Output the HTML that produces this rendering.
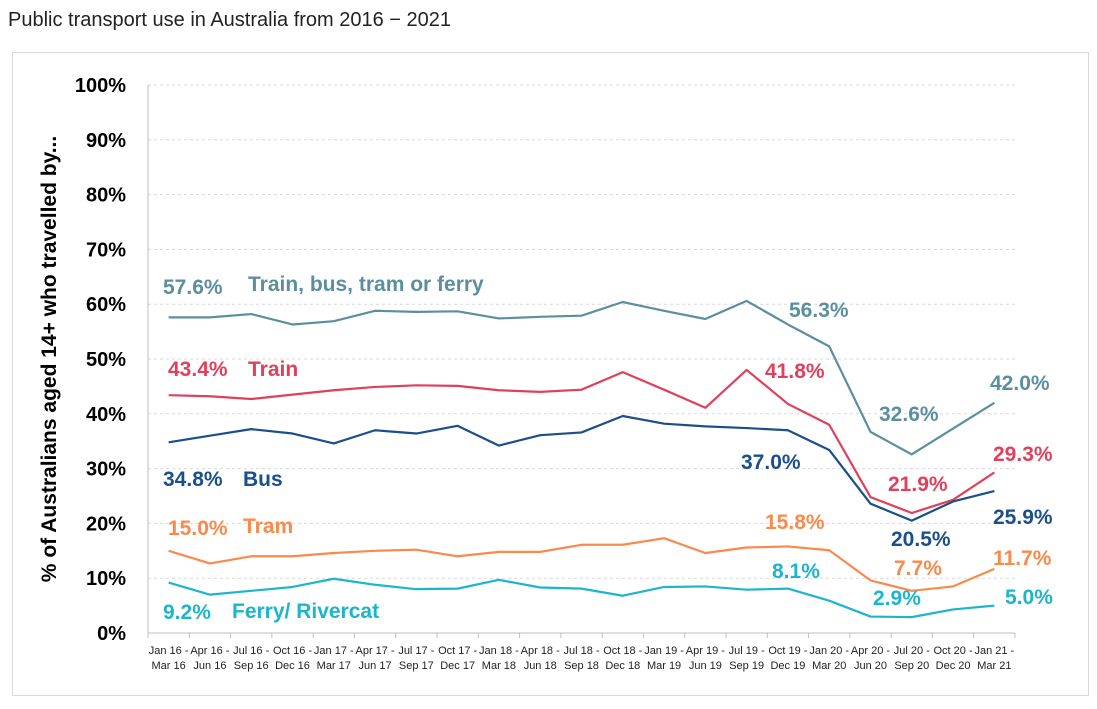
<!DOCTYPE html>
<html><head><meta charset="utf-8"><style>
body{margin:0;background:#fff;font-family:"Liberation Sans","DejaVu Sans",sans-serif}
</style></head><body>
<svg width="1097" height="704" xmlns="http://www.w3.org/2000/svg">
<text x="8" y="26" font-size="20" fill="#222">Public transport use in Australia from 2016 − 2021</text>
<rect x="12.5" y="52.5" width="1076" height="643" fill="#fff" stroke="#d9d9d9"/>
<g id="grid"></g><g id="axes"></g><g id="lines"></g>
<text transform="translate(56,359) rotate(-90)" text-anchor="middle" font-size="21" font-weight="bold" fill="#000">% of Australians aged 14+ who travelled by...</text>
<g font-weight="bold" font-size="21">
<text x="163" y="294" fill="#5b8fa0">57.6%</text>
<text x="248" y="291" fill="#5b8fa0">Train, bus, tram or ferry</text>
<text x="168" y="376" fill="#e0405a">43.4%</text>
<text x="248" y="376" fill="#e0405a">Train</text>
<text x="163" y="486" fill="#1a4f8a">34.8%</text>
<text x="243" y="486" fill="#1a4f8a">Bus</text>
<text x="168" y="535" fill="#f98a4c">15.0%</text>
<text x="243" y="533" fill="#f98a4c">Tram</text>
<text x="163" y="619" fill="#1cb5cc">9.2%</text>
<text x="232" y="618" fill="#1cb5cc">Ferry/ Rivercat</text>
<text x="789" y="317" fill="#5b8fa0">56.3%</text>
<text x="765" y="378" fill="#e0405a">41.8%</text>
<text x="741" y="469" fill="#1a4f8a">37.0%</text>
<text x="765" y="529" fill="#f98a4c">15.8%</text>
<text x="772" y="578" fill="#1cb5cc">8.1%</text>
<text x="879" y="421" fill="#5b8fa0">32.6%</text>
<text x="888" y="491" fill="#e0405a">21.9%</text>
<text x="891" y="546" fill="#1a4f8a">20.5%</text>
<text x="894" y="575" fill="#f98a4c">7.7%</text>
<text x="873" y="605" fill="#1cb5cc">2.9%</text>
<text x="990" y="390" fill="#5b8fa0">42.0%</text>
<text x="993" y="461" fill="#e0405a">29.3%</text>
<text x="993" y="524" fill="#1a4f8a">25.9%</text>
<text x="993" y="565" fill="#f98a4c">11.7%</text>
<text x="1005" y="604" fill="#1cb5cc">5.0%</text>
</g>
</svg>
<script>
const cats1=["Jan 16 -","Apr 16 -","Jul 16 -","Oct 16 -","Jan 17 -","Apr 17 -","Jul 17 -","Oct 17 -","Jan 18 -","Apr 18 -","Jul 18 -","Oct 18 -","Jan 19 -","Apr 19 -","Jul 19 -","Oct 19 -","Jan 20 -","Apr 20 -","Jul 20 -","Oct 20 -","Jan 21 -"];
const cats2=["Mar 16","Jun 16","Sep 16","Dec 16","Mar 17","Jun 17","Sep 17","Dec 17","Mar 18","Jun 18","Sep 18","Dec 18","Mar 19","Jun 19","Sep 19","Dec 19","Mar 20","Jun 20","Sep 20","Dec 20","Mar 21"];
const yTicks=[0,10,20,30,40,50,60,70,80,90,100];
const total=[57.6,57.6,58.2,56.3,56.9,58.8,58.6,58.7,57.4,57.7,57.9,60.4,58.8,57.3,60.6,56.3,52.3,36.7,32.6,37.3,42.0];
const train=[43.4,43.2,42.7,43.5,44.3,44.9,45.2,45.1,44.3,44.0,44.4,47.6,44.4,41.1,48.0,41.8,38.0,24.8,21.9,24.3,29.3];
const bus=[34.8,36.0,37.2,36.4,34.6,37.0,36.4,37.8,34.2,36.1,36.6,39.6,38.2,37.7,37.4,37.0,33.4,23.6,20.5,24.0,25.9];
const tram=[15.0,12.7,14.0,14.0,14.6,15.0,15.2,14.0,14.8,14.8,16.1,16.1,17.3,14.6,15.6,15.8,15.1,9.6,7.7,8.5,11.7];
const ferry=[9.2,7.0,7.7,8.4,9.9,8.8,8.0,8.1,9.7,8.3,8.1,6.8,8.4,8.5,7.9,8.1,5.9,3.0,2.9,4.3,5.0];
const NS="http://www.w3.org/2000/svg";
const X0=148,X1=1015,Y0=633,Y1=85;
const step=(X1-X0)/cats1.length;
const xs=i=>X0+step*(i+0.5);
const ys=v=>Y0-(Y0-Y1)*v/100;
function mk(t,a,p){const e=document.createElementNS(NS,t);for(const k in a)e.setAttribute(k,a[k]);p.appendChild(e);return e;}
const grid=document.getElementById('grid'),axes=document.getElementById('axes'),lines=document.getElementById('lines');
yTicks.forEach(v=>{
 if(v>0){const g=mk('line',{x1:X0,x2:X1,y1:ys(v),y2:ys(v),stroke:'#d9d9d9','stroke-dasharray':'3,3'},grid);
 
 }
 const t=mk('text',{x:126,y:ys(v)+7,'text-anchor':'end','font-size':20,'font-weight':'bold',fill:'#000'},axes);
 t.textContent=v+'%';
 
 
});
mk('line',{x1:X0,x2:X0,y1:Y1,y2:Y0,stroke:'#bfbfbf'},axes);
const xa=mk('line',{x1:X0,x2:X1,y1:Y0,y2:Y0,stroke:'#bfbfbf'},axes);


for(let i=0;i<=cats1.length;i++){mk('line',{x1:X0+step*i,x2:X0+step*i,y1:Y0,y2:Y0+5,stroke:'#bfbfbf'},axes);}
cats1.forEach((c,i)=>{
 const t=mk('text',{x:xs(i),y:654,'text-anchor':'middle','font-size':11,fill:'#222'},axes);
 t.textContent=c;
 
 
 const t2=mk('text',{x:xs(i),y:669,'text-anchor':'middle','font-size':11,fill:'#222'},axes);
 t2.textContent=cats2[i];
 
 
});
[[total,'#5b8fa0','line-total'],[train,'#e0405a','line-train'],[bus,'#1a4f8a','line-bus'],[tram,'#f98a4c','line-tram'],[ferry,'#1cb5cc','line-ferry']].forEach(([d,c,n])=>{
 const p=mk('polyline',{points:d.map((v,i)=>xs(i)+','+ys(v)).join(' '),fill:'none',stroke:c,'stroke-width':2.2,'stroke-linejoin':'round'},lines);
 
 
});
</script>
</body></html>
